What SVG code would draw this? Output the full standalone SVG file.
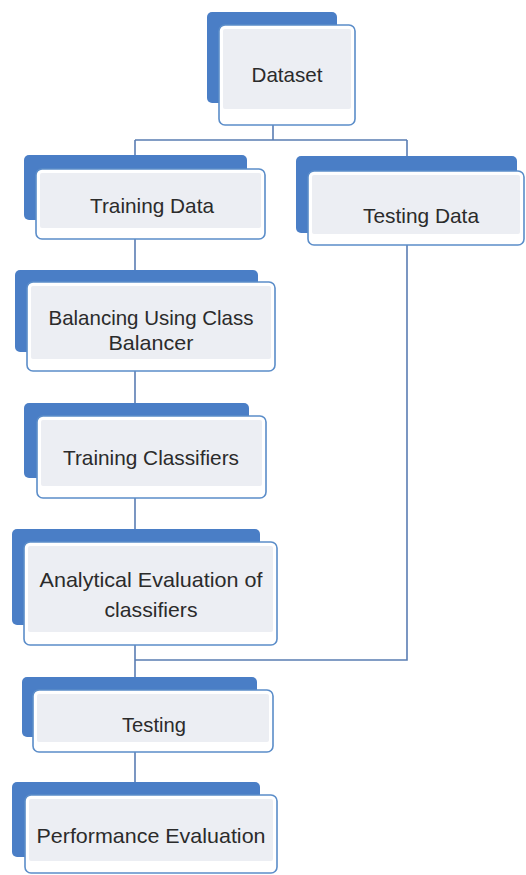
<svg xmlns="http://www.w3.org/2000/svg" width="526" height="875" viewBox="0 0 526 875">
<style>
.back{fill:#4a7ec6}
.front{fill:#ffffff;stroke:#5b8dc9;stroke-width:1.6}
.inner{fill:#eceef3}
.lbl{font-family:"Liberation Sans","Open Sans",sans-serif;font-size:21px;fill:#2b2b2b;text-anchor:middle}
.con{stroke:#5a7db3;stroke-width:1.6;fill:none}
</style>
<rect width="526" height="875" fill="#ffffff"/>
<g id="connectors">
<path class="con" d="M273,125 V140 M135,140 H407 M135,140 V155 M407,140 V156"/>
<path class="con" d="M135,239 V270 M135,371 V403 M135,498 V529 M135,645 V677 M135,752 V782"/>
<path class="con" d="M407,245 V660 H135"/>
</g>
<g id="dataset">
<rect class="back" x="207" y="12" width="130" height="91" rx="5"/>
<rect class="front" x="219" y="25" width="136" height="100" rx="6"/>
<rect class="inner" x="223" y="29" width="128" height="80" rx="2"/>
<text class="lbl" x="287" y="82" textLength="71" lengthAdjust="spacingAndGlyphs">Dataset</text>
</g>
<g id="training-data">
<rect class="back" x="24" y="155" width="223" height="65" rx="5"/>
<rect class="front" x="36" y="169" width="229" height="70" rx="6"/>
<rect class="inner" x="40" y="173" width="221" height="55" rx="2"/>
<text class="lbl" x="152" y="213" textLength="124" lengthAdjust="spacingAndGlyphs">Training Data</text>
</g>
<g id="testing-data">
<rect class="back" x="296" y="156" width="221" height="77" rx="5"/>
<rect class="front" x="308" y="171" width="216" height="74" rx="6"/>
<rect class="inner" x="312" y="175" width="208" height="59" rx="2"/>
<text class="lbl" x="421" y="223" textLength="116" lengthAdjust="spacingAndGlyphs">Testing Data</text>
</g>
<g id="balancing">
<rect class="back" x="15" y="270" width="243" height="82" rx="5"/>
<rect class="front" x="27" y="282" width="248" height="89" rx="6"/>
<rect class="inner" x="31" y="286" width="240" height="73" rx="2"/>
<text class="lbl" x="151" y="325" textLength="205" lengthAdjust="spacingAndGlyphs">Balancing Using Class</text>
<text class="lbl" x="151" y="350" textLength="85" lengthAdjust="spacingAndGlyphs">Balancer</text>
</g>
<g id="training-classifiers">
<rect class="back" x="24" y="403" width="225" height="75" rx="5"/>
<rect class="front" x="37" y="416" width="229" height="82" rx="6"/>
<rect class="inner" x="41" y="420" width="221" height="66" rx="2"/>
<text class="lbl" x="151" y="465" textLength="176" lengthAdjust="spacingAndGlyphs">Training Classifiers</text>
</g>
<g id="analytical-evaluation">
<rect class="back" x="12" y="529" width="248" height="96" rx="5"/>
<rect class="front" x="24" y="542" width="253" height="103" rx="6"/>
<rect class="inner" x="28" y="546" width="245" height="86" rx="2"/>
<text class="lbl" x="151" y="587" textLength="223" lengthAdjust="spacingAndGlyphs">Analytical Evaluation of</text>
<text class="lbl" x="151" y="617" textLength="93" lengthAdjust="spacingAndGlyphs">classifiers</text>
</g>
<g id="testing">
<rect class="back" x="22" y="677" width="235" height="60" rx="5"/>
<rect class="front" x="33" y="690" width="240" height="62" rx="6"/>
<rect class="inner" x="37" y="694" width="232" height="48" rx="2"/>
<text class="lbl" x="154" y="732" textLength="64" lengthAdjust="spacingAndGlyphs">Testing</text>
</g>
<g id="performance-evaluation">
<rect class="back" x="12" y="782" width="248" height="75" rx="5"/>
<rect class="front" x="25" y="795" width="252" height="78" rx="6"/>
<rect class="inner" x="29" y="799" width="244" height="62" rx="2"/>
<text class="lbl" x="151" y="843" textLength="229" lengthAdjust="spacingAndGlyphs">Performance Evaluation</text>
</g>
</svg>
